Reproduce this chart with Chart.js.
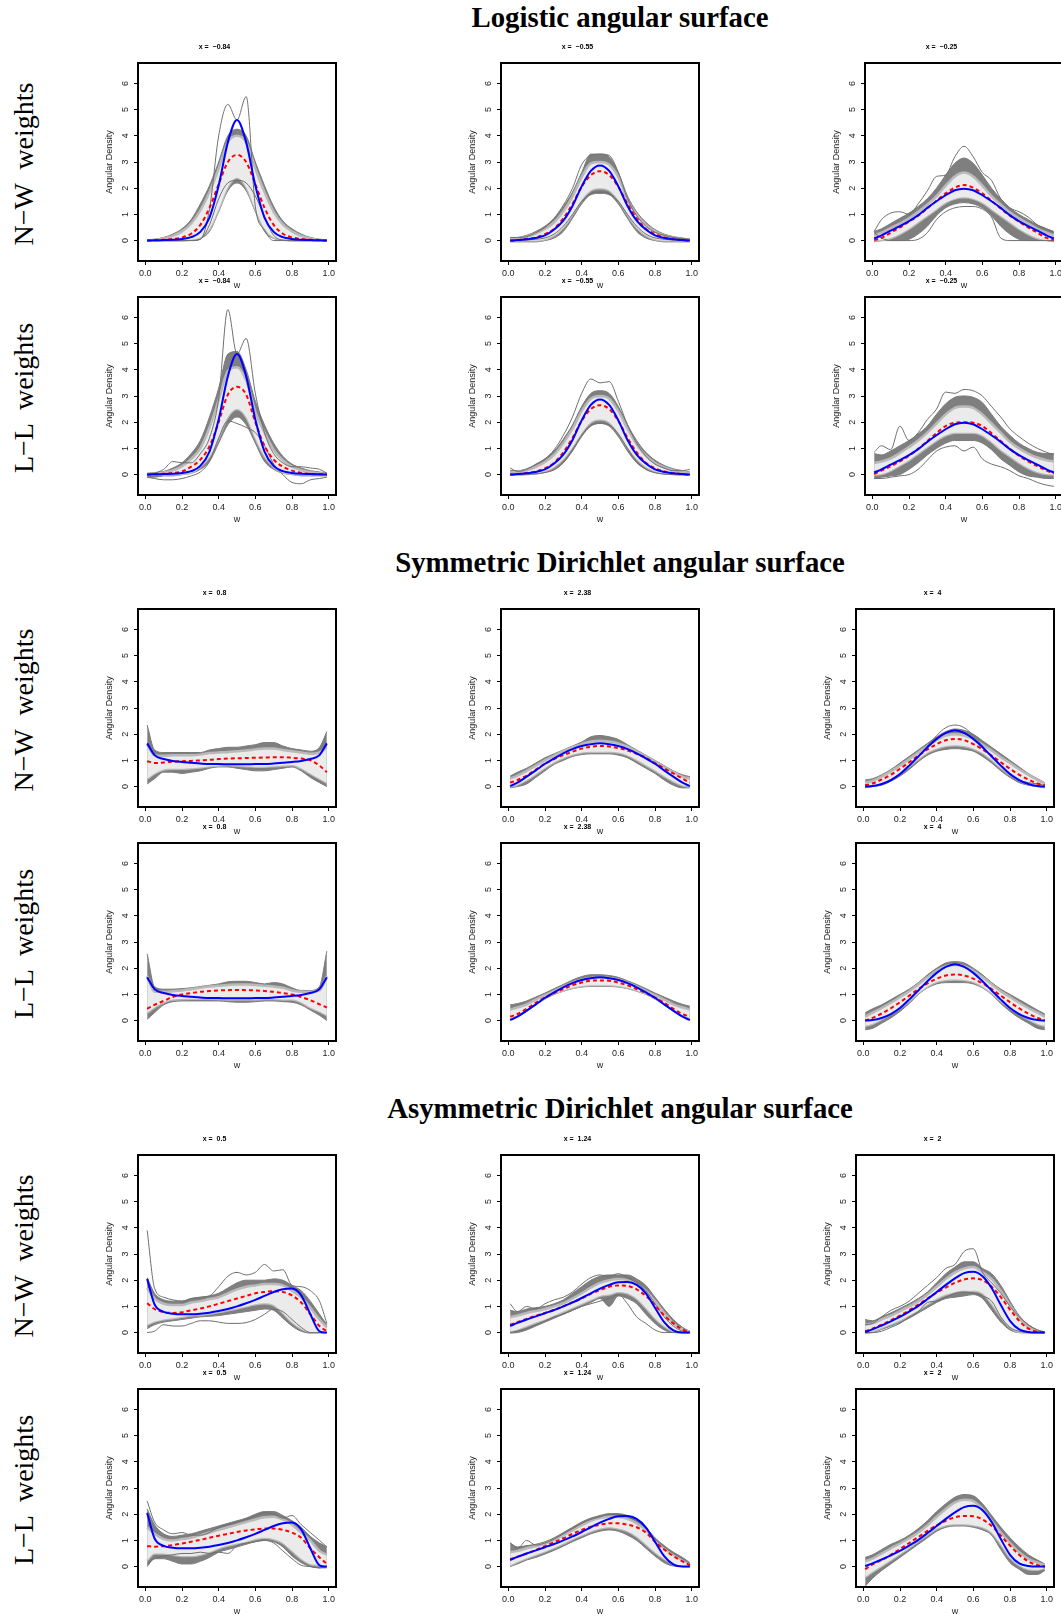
<!DOCTYPE html>
<html>
<head>
<meta charset="utf-8">
<script src="https://cdn.jsdelivr.net/npm/chart.js@4.4.1/dist/chart.umd.min.js"></script>
<style>
  body { margin: 0; background: #fff; }
  #page { position: relative; width: 1061px; height: 1617px; overflow: hidden; background: #fff; }
  .section-title {
    position: absolute; left: 0; width: 1240px; height: 34px; line-height: 34px;
    text-align: center; font-family: "Liberation Serif", serif; font-weight: bold; font-size: 28.8px; color: #000;
  }
  .row-label {
    position: absolute; width: 220px; height: 34px; line-height: 34px; text-align: center;
    font-family: "Liberation Serif", serif; font-size: 28px; color: #000;
    transform: rotate(-90deg); transform-origin: 50% 50%; white-space: pre;
  }
  canvas.panel { position: absolute; }
</style>
</head>
<body>
<div id="page"></div>
<script>
const wGrid = [0.01, 0.05, 0.1, 0.15, 0.2, 0.25, 0.3, 0.35, 0.4, 0.45, 0.5, 0.55, 0.6, 0.65, 0.7, 0.75, 0.8, 0.85, 0.9, 0.95, 0.99];
const xTickValues = [0, 0.2, 0.4, 0.6, 0.8, 1.0];
const yTickValues = [0, 1, 2, 3, 4, 5, 6];
const sectionTitles = ["Logistic angular surface", "Symmetric Dirichlet angular surface", "Asymmetric Dirichlet angular surface"];
const rowLabels = ["N\u2212W  weights", "L\u2212L  weights"];
const xLabels = [["\u22120.84", "\u22120.55", "\u22120.25"], ["0.8", "2.38", "4"], ["0.5", "1.24", "2"]];

// ---- Logistic, x = -0.84
const logA_true = [0, 0.01, 0.02, 0.03, 0.06, 0.13, 0.33, 0.88, 2.1, 3.75, 4.6, 3.75, 2.1, 0.88, 0.33, 0.13, 0.06, 0.03, 0.02, 0.01, 0];
const logA_nw_mean = [0, 0.01, 0.03, 0.06, 0.12, 0.26, 0.6, 1.25, 2.15, 3.0, 3.27, 3.0, 2.15, 1.25, 0.6, 0.26, 0.12, 0.06, 0.03, 0.01, 0];
const logA_nw_hi = [0.02, 0.05, 0.12, 0.25, 0.45, 0.8, 1.4, 2.1, 3.0, 4.0, 4.25, 4.0, 3.0, 2.1, 1.3, 0.75, 0.45, 0.25, 0.12, 0.05, 0.02];
const logA_nw_lo = [0, 0, 0, 0, 0, 0.02, 0.08, 0.35, 1.1, 1.9, 2.2, 1.9, 1.1, 0.35, 0.08, 0.02, 0, 0, 0, 0, 0];
const logA_nw_inHi = [0.01, 0.03, 0.08, 0.18, 0.35, 0.65, 1.15, 1.85, 2.75, 3.75, 4.0, 3.75, 2.75, 1.85, 1.1, 0.62, 0.35, 0.18, 0.08, 0.03, 0.01];
const logA_nw_inLo = [0, 0, 0, 0, 0, 0.04, 0.12, 0.45, 1.2, 2.05, 2.4, 2.05, 1.2, 0.45, 0.12, 0.04, 0, 0, 0, 0, 0];
const logA_nw_line1 = [0, 0, 0, 0, 0, 0, 0.05, 1.2, 4.0, 5.2, 4.6, 5.5, 1.3, 0.4, 0, 0, 0, 0, 0, 0, 0];
const logA_nw_line2 = [0, 0, 0, 0, 0, 0, 0.05, 0.6, 1.6, 2.2, 2.3, 2.2, 1.7, 0.9, 0.2, 0.02, 0, 0, 0, 0, 0];
const logA_ll_mean = [0, 0.01, 0.03, 0.06, 0.12, 0.3, 0.57, 1.08, 2.0, 3.05, 3.35, 3.05, 2.0, 1.1, 0.57, 0.3, 0.15, 0.06, 0.03, 0.01, 0];
const logA_ll_hi = [0.05, 0.08, 0.12, 0.25, 0.45, 0.8, 1.3, 2.2, 3.3, 4.6, 4.7, 4.0, 2.8, 1.9, 1.2, 0.7, 0.4, 0.25, 0.15, 0.1, 0.05];
const logA_ll_lo = [-0.1, -0.1, -0.05, -0.05, 0, 0.05, 0.2, 0.5, 1.2, 1.9, 2.2, 1.9, 1.2, 0.5, 0.2, 0.05, 0, -0.05, -0.05, -0.05, -0.05];
const logA_ll_inHi = [0.02, 0.04, 0.08, 0.16, 0.32, 0.6, 1.0, 1.8, 2.85, 3.95, 4.1, 3.6, 2.4, 1.6, 0.95, 0.55, 0.3, 0.17, 0.09, 0.05, 0.02];
const logA_ll_inLo = [0, 0, 0, 0, 0.02, 0.08, 0.3, 0.7, 1.4, 2.2, 2.5, 2.2, 1.4, 0.7, 0.3, 0.08, 0.02, 0, 0, 0, 0];
const logA_ll_line1 = [0, 0.05, 0.2, 0.5, 0.45, 0.45, 0.8, 1.4, 2.9, 6.3, 4.6, 5.2, 3.1, 1.6, 0.8, 0.45, 0.3, 0.3, 0.25, 0.2, 0.05];
const logA_ll_line2 = [-0.1, -0.15, -0.2, -0.2, -0.15, -0.05, 0.1, 0.5, 1.4, 2.05, 1.95, 1.8, 1.6, 1.1, 0.4, 0, -0.3, -0.35, -0.2, -0.15, -0.1];

// ---- Logistic, x = -0.55
const logB_true = [0, 0.02, 0.05, 0.1, 0.2, 0.42, 0.76, 1.32, 2.07, 2.66, 2.87, 2.66, 2.07, 1.32, 0.76, 0.42, 0.2, 0.1, 0.05, 0.02, 0];
const logB_nw_mean = [0, 0.02, 0.06, 0.12, 0.25, 0.45, 0.85, 1.4, 2.05, 2.5, 2.65, 2.5, 2.05, 1.4, 0.85, 0.45, 0.25, 0.12, 0.06, 0.02, 0];
const logB_nw_hi = [0.1, 0.12, 0.2, 0.35, 0.55, 0.85, 1.3, 1.85, 2.6, 3.3, 3.3, 3.2, 2.6, 1.7, 1.1, 0.7, 0.42, 0.25, 0.15, 0.1, 0.05];
const logB_nw_lo = [-0.05, -0.05, -0.05, -0.05, 0, 0.1, 0.35, 0.85, 1.4, 1.75, 1.8, 1.75, 1.4, 0.85, 0.35, 0.1, 0, -0.05, -0.05, -0.05, -0.05];
const logB_nw_inHi = [0.05, 0.08, 0.14, 0.27, 0.44, 0.7, 1.12, 1.68, 2.42, 2.95, 3.0, 2.9, 2.42, 1.55, 1.0, 0.6, 0.35, 0.2, 0.11, 0.06, 0.03];
const logB_nw_inLo = [0, 0, 0, 0, 0.05, 0.2, 0.5, 1.0, 1.55, 1.92, 2.0, 1.92, 1.55, 1.0, 0.5, 0.2, 0.05, 0, 0, 0, 0];
const logB_nw_line1 = [0.12, 0.12, 0.15, 0.3, 0.5, 0.85, 1.35, 2.0, 2.9, 3.25, 3.3, 3.25, 2.6, 1.6, 0.95, 0.55, 0.32, 0.2, 0.12, 0.08, 0.05];
const logB_nw_line2 = [0, 0, 0.02, 0.05, 0.1, 0.25, 0.55, 1.0, 1.5, 1.8, 1.85, 1.8, 1.5, 1.0, 0.55, 0.25, 0.1, 0.05, 0.02, 0, 0];
const logB_ll_mean = [0, 0.02, 0.06, 0.12, 0.24, 0.45, 0.85, 1.4, 2.05, 2.5, 2.65, 2.5, 2.05, 1.4, 0.85, 0.45, 0.24, 0.12, 0.06, 0.02, 0];
const logB_ll_hi = [0.15, 0.15, 0.22, 0.38, 0.6, 0.9, 1.35, 1.9, 2.6, 3.1, 3.2, 3.1, 2.6, 1.9, 1.3, 0.85, 0.55, 0.35, 0.22, 0.15, 0.1];
const logB_ll_lo = [-0.02, -0.02, 0, 0.02, 0.08, 0.2, 0.45, 0.9, 1.45, 1.85, 1.95, 1.85, 1.45, 0.9, 0.45, 0.2, 0.08, 0.02, 0, -0.02, -0.02];
const logB_ll_inHi = [0.08, 0.1, 0.16, 0.29, 0.48, 0.76, 1.2, 1.75, 2.42, 2.9, 3.0, 2.9, 2.42, 1.75, 1.15, 0.72, 0.44, 0.27, 0.16, 0.1, 0.06];
const logB_ll_inLo = [0, 0, 0.02, 0.05, 0.13, 0.3, 0.6, 1.05, 1.6, 2.0, 2.1, 2.0, 1.6, 1.05, 0.6, 0.3, 0.13, 0.05, 0.02, 0, 0];
const logB_ll_line1 = [0.25, 0.12, 0.2, 0.4, 0.6, 0.95, 1.5, 2.2, 3.1, 3.65, 3.5, 3.55, 2.8, 1.9, 1.2, 0.7, 0.4, 0.25, 0.15, 0.15, 0.2];
const logB_ll_line2 = [0, 0, 0.01, 0.03, 0.08, 0.18, 0.45, 0.95, 1.5, 1.88, 1.95, 1.9, 1.55, 1.0, 0.5, 0.2, 0.07, 0.02, 0, 0, 0];

// ---- Logistic, x = -0.25
const logC_true = [0.08, 0.2, 0.38, 0.55, 0.74, 0.97, 1.25, 1.5, 1.73, 1.92, 1.98, 1.92, 1.73, 1.5, 1.25, 0.97, 0.74, 0.55, 0.38, 0.2, 0.08];
const logC_nw_mean = [0.02, 0.1, 0.3, 0.5, 0.72, 0.95, 1.23, 1.52, 1.8, 2.02, 2.12, 2.02, 1.8, 1.52, 1.23, 0.95, 0.72, 0.5, 0.3, 0.1, 0.02];
const logC_nw_hi = [0.35, 0.45, 0.65, 0.85, 1.05, 1.3, 1.6, 2.0, 2.5, 2.95, 3.15, 2.95, 2.5, 2.0, 1.6, 1.25, 1.0, 0.8, 0.6, 0.45, 0.35];
const logC_nw_lo = [-0.05, 0, 0, 0, 0.05, 0.25, 0.55, 0.95, 1.25, 1.4, 1.45, 1.4, 1.25, 0.95, 0.55, 0.25, 0.05, 0, 0, 0, -0.05];
const logC_nw_inHi = [0.2, 0.3, 0.48, 0.65, 0.85, 1.1, 1.38, 1.7, 2.1, 2.45, 2.6, 2.45, 2.1, 1.7, 1.38, 1.08, 0.85, 0.65, 0.45, 0.3, 0.2];
const logC_nw_inLo = [0, 0.02, 0.1, 0.25, 0.45, 0.7, 0.95, 1.2, 1.45, 1.6, 1.65, 1.6, 1.45, 1.2, 0.95, 0.7, 0.45, 0.25, 0.1, 0.02, 0];
const logC_nw_line1 = [0.35, 0.8, 1.05, 1.1, 1.0, 1.4, 1.9, 2.45, 2.5, 3.2, 3.6, 3.2, 2.6, 2.3, 1.6, 1.25, 1.1, 0.9, 0.6, 0.45, 0.3];
const logC_nw_line2 = [0.3, 0.1, 0, 0, 0, 0.05, 0.3, 0.8, 1.1, 1.25, 1.3, 1.3, 1.2, 0.9, 0.1, 0, 0, 0, 0, 0, 0];
const logC_ll_mean = [0.02, 0.15, 0.32, 0.5, 0.72, 0.98, 1.28, 1.58, 1.85, 1.98, 2.0, 1.98, 1.85, 1.58, 1.28, 0.98, 0.72, 0.5, 0.32, 0.15, 0.05];
const logC_ll_hi = [0.8, 0.75, 0.9, 1.1, 1.3, 1.55, 1.85, 2.3, 2.7, 2.95, 3.0, 2.95, 2.75, 2.3, 1.85, 1.5, 1.2, 1.0, 0.85, 0.8, 0.8];
const logC_ll_lo = [-0.15, -0.1, -0.05, 0, 0.2, 0.45, 0.75, 1.0, 1.2, 1.3, 1.3, 1.3, 1.2, 0.95, 0.6, 0.35, 0.1, -0.05, -0.1, -0.15, -0.15];
const logC_ll_inHi = [0.45, 0.5, 0.62, 0.82, 1.05, 1.3, 1.6, 1.95, 2.3, 2.55, 2.6, 2.55, 2.3, 1.95, 1.6, 1.25, 1.0, 0.8, 0.65, 0.55, 0.5];
const logC_ll_inLo = [0, 0.02, 0.15, 0.35, 0.55, 0.8, 1.05, 1.3, 1.5, 1.6, 1.6, 1.6, 1.5, 1.25, 0.95, 0.7, 0.45, 0.25, 0.1, 0.02, 0];
const logC_ll_line1 = [0.85, 1.1, 0.95, 1.85, 1.3, 1.6, 2.1, 2.5, 3.15, 3.1, 3.25, 3.2, 3.0, 2.6, 2.2, 1.75, 1.45, 1.2, 1.0, 0.85, 0.75];
const logC_ll_line2 = [-0.15, -0.15, -0.1, -0.05, 0, 0.2, 0.55, 0.9, 1.05, 1.1, 0.9, 1.05, 0.6, 0.4, 0.3, 0.15, -0.05, -0.15, -0.3, -0.4, -0.45];

// ---- Symmetric Dirichlet, x = 0.8
const symD_true = [1.65, 1.2, 1.05, 0.98, 0.94, 0.91, 0.88, 0.86, 0.86, 0.85, 0.85, 0.85, 0.86, 0.86, 0.88, 0.91, 0.94, 0.98, 1.05, 1.2, 1.65];
const symD_nw_mean = [0.97, 0.9, 0.92, 0.95, 0.97, 0.98, 1.0, 1.02, 1.05, 1.07, 1.08, 1.09, 1.1, 1.11, 1.12, 1.12, 1.1, 1.07, 1.0, 0.8, 0.55];
const symD_nw_hi = [2.35, 1.4, 1.3, 1.3, 1.3, 1.3, 1.3, 1.4, 1.45, 1.5, 1.5, 1.55, 1.6, 1.68, 1.68, 1.55, 1.45, 1.4, 1.35, 1.5, 2.1];
const symD_nw_lo = [0.1, 0.3, 0.55, 0.55, 0.5, 0.55, 0.6, 0.7, 0.75, 0.75, 0.7, 0.65, 0.6, 0.6, 0.65, 0.7, 0.75, 0.6, 0.35, 0.15, 0];
const symD_nw_inHi = [1.6, 1.2, 1.18, 1.2, 1.2, 1.2, 1.22, 1.28, 1.3, 1.32, 1.35, 1.38, 1.42, 1.45, 1.45, 1.4, 1.35, 1.3, 1.25, 1.3, 1.5];
const symD_nw_inLo = [0.3, 0.5, 0.65, 0.68, 0.68, 0.7, 0.73, 0.78, 0.8, 0.82, 0.8, 0.78, 0.76, 0.76, 0.78, 0.8, 0.82, 0.7, 0.5, 0.3, 0.15];
const symD_ll_mean = [0.45, 0.6, 0.75, 0.9, 1.0, 1.05, 1.1, 1.13, 1.15, 1.16, 1.17, 1.16, 1.15, 1.13, 1.1, 1.05, 1.0, 0.9, 0.78, 0.62, 0.5];
const symD_ll_hi = [2.55, 1.3, 1.2, 1.2, 1.22, 1.25, 1.3, 1.35, 1.4, 1.48, 1.5, 1.5, 1.45, 1.4, 1.45, 1.4, 1.25, 1.15, 1.15, 1.3, 2.65];
const symD_ll_lo = [0.05, 0.3, 0.6, 0.72, 0.75, 0.75, 0.75, 0.75, 0.75, 0.72, 0.7, 0.7, 0.72, 0.75, 0.75, 0.72, 0.7, 0.6, 0.4, 0.2, 0];
const symD_ll_inHi = [1.7, 1.1, 1.1, 1.12, 1.15, 1.2, 1.25, 1.3, 1.33, 1.36, 1.38, 1.38, 1.36, 1.33, 1.3, 1.25, 1.15, 1.1, 1.1, 1.15, 1.7];
const symD_ll_inLo = [0.3, 0.5, 0.7, 0.8, 0.82, 0.83, 0.83, 0.83, 0.82, 0.8, 0.8, 0.8, 0.8, 0.82, 0.82, 0.8, 0.8, 0.7, 0.5, 0.35, 0.2];

// ---- Symmetric Dirichlet, x = 2.38
const symE_true = [0.02, 0.15, 0.38, 0.62, 0.87, 1.08, 1.27, 1.43, 1.55, 1.62, 1.65, 1.62, 1.55, 1.43, 1.27, 1.08, 0.87, 0.62, 0.38, 0.15, 0.02];
const symE_nw_mean = [0.15, 0.25, 0.42, 0.65, 0.87, 1.05, 1.2, 1.33, 1.45, 1.52, 1.55, 1.53, 1.47, 1.38, 1.25, 1.1, 0.9, 0.7, 0.5, 0.3, 0.15];
const symE_nw_hi = [0.4, 0.55, 0.7, 0.9, 1.1, 1.25, 1.4, 1.55, 1.7, 1.9, 1.95, 1.9, 1.8, 1.6, 1.4, 1.2, 1.0, 0.8, 0.6, 0.45, 0.38];
const symE_nw_lo = [-0.05, 0, 0.1, 0.35, 0.6, 0.85, 1.0, 1.15, 1.22, 1.25, 1.25, 1.25, 1.2, 1.1, 0.9, 0.7, 0.5, 0.25, 0.05, -0.05, -0.05];
const symE_nw_inHi = [0.3, 0.42, 0.6, 0.8, 1.0, 1.18, 1.35, 1.5, 1.62, 1.72, 1.75, 1.72, 1.65, 1.52, 1.35, 1.15, 0.95, 0.75, 0.55, 0.38, 0.3];
const symE_nw_inLo = [0, 0.08, 0.25, 0.48, 0.72, 0.93, 1.1, 1.22, 1.3, 1.33, 1.33, 1.33, 1.3, 1.2, 1.02, 0.82, 0.62, 0.4, 0.2, 0.05, 0];
const symE_ll_mean = [0.15, 0.25, 0.45, 0.68, 0.88, 1.05, 1.2, 1.35, 1.45, 1.52, 1.53, 1.52, 1.45, 1.35, 1.2, 1.05, 0.88, 0.68, 0.45, 0.25, 0.15];
const symE_ll_hi = [0.6, 0.65, 0.75, 0.9, 1.05, 1.22, 1.38, 1.55, 1.68, 1.75, 1.75, 1.72, 1.65, 1.52, 1.38, 1.22, 1.05, 0.9, 0.75, 0.62, 0.55];
const symE_ll_lo = [0.05, 0.15, 0.35, 0.6, 0.82, 1.0, 1.12, 1.22, 1.28, 1.3, 1.3, 1.3, 1.28, 1.22, 1.12, 1.0, 0.82, 0.6, 0.35, 0.15, 0.05];
const symE_ll_inHi = [0.42, 0.5, 0.62, 0.8, 0.97, 1.13, 1.3, 1.45, 1.57, 1.63, 1.65, 1.63, 1.57, 1.45, 1.3, 1.13, 0.97, 0.8, 0.62, 0.5, 0.42];
const symE_ll_inLo = [0.1, 0.2, 0.4, 0.65, 0.86, 1.03, 1.15, 1.25, 1.32, 1.35, 1.35, 1.35, 1.32, 1.25, 1.15, 1.03, 0.86, 0.65, 0.4, 0.2, 0.1];

// ---- Symmetric Dirichlet, x = 4
const symF_true = [0, 0.02, 0.1, 0.25, 0.48, 0.8, 1.15, 1.5, 1.82, 2.05, 2.15, 2.05, 1.82, 1.5, 1.15, 0.8, 0.48, 0.25, 0.1, 0.02, 0];
const symF_nw_mean = [0.05, 0.12, 0.27, 0.45, 0.68, 0.93, 1.18, 1.42, 1.62, 1.77, 1.82, 1.77, 1.62, 1.42, 1.18, 0.93, 0.68, 0.45, 0.27, 0.12, 0.05];
const symF_nw_hi = [0.25, 0.3, 0.45, 0.65, 0.9, 1.15, 1.4, 1.65, 1.9, 2.1, 2.2, 2.15, 2.0, 1.75, 1.5, 1.25, 1.0, 0.75, 0.5, 0.3, 0.15];
const symF_nw_lo = [-0.05, 0, 0.05, 0.2, 0.4, 0.65, 0.95, 1.2, 1.35, 1.42, 1.45, 1.42, 1.35, 1.15, 0.9, 0.6, 0.35, 0.15, 0.05, 0, -0.05];
const symF_nw_inHi = [0.15, 0.22, 0.38, 0.58, 0.8, 1.05, 1.3, 1.55, 1.78, 1.95, 2.0, 1.95, 1.82, 1.6, 1.38, 1.12, 0.9, 0.66, 0.45, 0.25, 0.12];
const symF_nw_inLo = [0, 0.02, 0.12, 0.3, 0.52, 0.78, 1.05, 1.3, 1.45, 1.55, 1.58, 1.55, 1.45, 1.28, 1.02, 0.72, 0.45, 0.25, 0.1, 0.02, 0];
const symF_nw_line1 = [0, 0.02, 0.08, 0.22, 0.45, 0.78, 1.15, 1.55, 1.95, 2.25, 2.35, 2.25, 1.95, 1.55, 1.15, 0.78, 0.45, 0.25, 0.15, 0.1, 0.05];
const symF_ll_mean = [0, 0.1, 0.27, 0.47, 0.7, 0.95, 1.2, 1.42, 1.6, 1.72, 1.76, 1.72, 1.6, 1.42, 1.2, 0.95, 0.7, 0.47, 0.27, 0.1, 0];
const symF_ll_hi = [0.3, 0.45, 0.6, 0.8, 1.0, 1.2, 1.45, 1.75, 2.0, 2.2, 2.25, 2.2, 2.0, 1.75, 1.45, 1.2, 1.0, 0.8, 0.6, 0.4, 0.25];
const symF_ll_lo = [-0.35, -0.3, -0.1, 0.1, 0.35, 0.65, 1.0, 1.25, 1.4, 1.45, 1.45, 1.45, 1.4, 1.25, 1.0, 0.65, 0.35, 0.1, -0.1, -0.3, -0.35];
const symF_ll_inHi = [0.15, 0.3, 0.48, 0.68, 0.9, 1.12, 1.38, 1.65, 1.9, 2.08, 2.12, 2.08, 1.9, 1.65, 1.38, 1.12, 0.9, 0.68, 0.48, 0.3, 0.15];
const symF_ll_inLo = [-0.2, -0.12, 0.05, 0.25, 0.48, 0.75, 1.05, 1.3, 1.48, 1.55, 1.57, 1.55, 1.48, 1.3, 1.05, 0.75, 0.48, 0.25, 0.05, -0.12, -0.2];

// ---- Asymmetric Dirichlet, x = 0.5
const asyG_true = [2.05, 1.08, 0.79, 0.72, 0.7, 0.7, 0.72, 0.76, 0.82, 0.9, 1.0, 1.12, 1.25, 1.4, 1.55, 1.65, 1.68, 1.42, 0.7, 0.05, 0];
const asyG_nw_mean = [1.12, 0.9, 0.78, 0.75, 0.78, 0.85, 0.92, 1.0, 1.1, 1.2, 1.3, 1.4, 1.5, 1.55, 1.58, 1.55, 1.42, 1.15, 0.7, 0.25, 0.05];
const asyG_nw_hi = [2.1, 1.5, 1.25, 1.2, 1.2, 1.3, 1.35, 1.4, 1.5, 1.7, 1.9, 2.0, 2.0, 2.0, 2.05, 2.0, 1.8, 1.6, 1.2, 0.7, 0.3];
const asyG_nw_lo = [0.15, 0.3, 0.4, 0.45, 0.5, 0.55, 0.6, 0.62, 0.65, 0.7, 0.75, 0.8, 0.85, 0.9, 0.85, 0.55, 0.25, 0.05, -0.02, 0, 0];
const asyG_nw_inHi = [1.7, 1.3, 1.1, 1.05, 1.05, 1.15, 1.2, 1.28, 1.35, 1.5, 1.65, 1.75, 1.8, 1.85, 1.85, 1.8, 1.6, 1.35, 0.95, 0.5, 0.2];
const asyG_nw_inLo = [0.3, 0.42, 0.5, 0.55, 0.6, 0.65, 0.68, 0.72, 0.78, 0.85, 0.92, 1.0, 1.08, 1.12, 1.05, 0.75, 0.4, 0.15, 0.02, 0, 0];
const asyG_nw_line1 = [3.9, 1.7, 1.35, 1.25, 1.2, 1.3, 1.35, 1.4, 1.75, 2.15, 2.3, 2.2, 2.3, 2.6, 2.35, 2.4, 1.8, 1.75, 1.6, 1.2, 0.35];
const asyG_nw_line2 = [0, 0.05, 0.3, 0.25, 0.25, 0.35, 0.45, 0.45, 0.4, 0.35, 0.35, 0.38, 0.5, 0.7, 0.9, 0.8, 0.5, 0.2, 0, 0, 0];
const asyG_ll_mean = [0.78, 0.76, 0.78, 0.82, 0.88, 0.95, 1.02, 1.1, 1.18, 1.25, 1.32, 1.38, 1.42, 1.45, 1.45, 1.4, 1.3, 1.1, 0.7, 0.35, 0.1];
const asyG_ll_hi = [2.2, 1.6, 1.25, 1.15, 1.2, 1.25, 1.35, 1.45, 1.55, 1.65, 1.75, 1.85, 2.0, 2.1, 2.1, 1.95, 1.75, 1.5, 1.15, 0.9, 0.75];
const asyG_ll_lo = [0, 0.3, 0.3, 0.2, 0.1, 0.1, 0.2, 0.35, 0.55, 0.65, 0.75, 0.85, 0.95, 1.0, 0.95, 0.75, 0.4, 0.15, 0, -0.05, -0.05];
const asyG_ll_inHi = [1.5, 1.25, 1.05, 1.0, 1.05, 1.1, 1.2, 1.3, 1.4, 1.5, 1.6, 1.7, 1.8, 1.88, 1.9, 1.8, 1.6, 1.3, 1.0, 0.6, 0.45];
const asyG_ll_inLo = [0.25, 0.5, 0.5, 0.45, 0.4, 0.4, 0.45, 0.55, 0.7, 0.8, 0.88, 0.95, 1.05, 1.1, 1.05, 0.9, 0.6, 0.3, 0.1, 0.05, 0];
const asyG_ll_line1 = [2.5, 1.7, 1.4, 1.25, 1.3, 1.2, 1.2, 1.3, 1.5, 1.6, 1.7, 1.8, 1.95, 2.05, 2.0, 1.85, 1.95, 1.6, 1.3, 1.0, 0.75];
const asyG_ll_line2 = [0.1, 0.3, 0.4, 0.45, 0.5, 0.5, 0.55, 0.5, 0.55, 0.5, 0.8, 0.9, 0.95, 1.0, 0.9, 0.6, 0.3, 0.05, 0, -0.05, 0];

// ---- Asymmetric Dirichlet, x = 1.24
const asyH_true = [0.25, 0.37, 0.5, 0.62, 0.74, 0.86, 1.0, 1.15, 1.32, 1.5, 1.68, 1.82, 1.92, 1.93, 1.82, 1.5, 0.95, 0.4, 0.08, 0, 0];
const asyH_nw_mean = [0.3, 0.4, 0.52, 0.64, 0.75, 0.87, 1.0, 1.15, 1.3, 1.48, 1.62, 1.75, 1.8, 1.78, 1.65, 1.4, 1.05, 0.65, 0.35, 0.12, 0.02];
const asyH_nw_hi = [0.85, 0.8, 0.9, 0.95, 1.0, 1.1, 1.25, 1.5, 1.75, 2.0, 2.15, 2.2, 2.2, 2.2, 2.05, 1.8, 1.35, 0.9, 0.5, 0.2, 0.05];
const asyH_nw_lo = [-0.02, 0, 0.1, 0.25, 0.4, 0.55, 0.7, 0.85, 1.0, 1.15, 1.3, 1.0, 1.4, 1.3, 1.1, 0.7, 0.35, 0.1, 0, 0, 0];
const asyH_nw_inHi = [0.6, 0.65, 0.75, 0.82, 0.9, 1.0, 1.12, 1.3, 1.5, 1.72, 1.9, 2.0, 2.05, 2.0, 1.85, 1.6, 1.2, 0.75, 0.35, 0.12, 0.03];
const asyH_nw_inLo = [0.05, 0.12, 0.25, 0.38, 0.5, 0.65, 0.8, 0.95, 1.1, 1.25, 1.4, 1.45, 1.55, 1.5, 1.3, 0.95, 0.55, 0.25, 0.05, 0, 0];
const asyH_nw_line1 = [1.1, 0.8, 1.0, 0.9, 1.1, 1.25, 1.35, 1.55, 1.85, 2.1, 2.2, 2.15, 2.25, 2.1, 1.9, 1.6, 1.1, 0.6, 0.25, 0.05, 0];
const asyH_nw_line2 = [0, 0.05, 0.15, 0.3, 0.45, 0.6, 0.7, 0.85, 1.0, 1.1, 1.2, 1.3, 1.45, 1.1, 0.6, 0.35, 0.1, 0, 0, 0, 0];
const asyH_ll_mean = [0.28, 0.38, 0.5, 0.63, 0.78, 0.93, 1.08, 1.25, 1.4, 1.52, 1.6, 1.65, 1.65, 1.6, 1.5, 1.3, 0.95, 0.65, 0.4, 0.2, 0.05];
const asyH_ll_hi = [0.9, 0.75, 0.8, 0.85, 0.95, 1.1, 1.3, 1.5, 1.7, 1.85, 1.95, 2.02, 2.02, 1.95, 1.8, 1.5, 1.1, 0.8, 0.55, 0.35, 0.15];
const asyH_ll_lo = [0, 0.1, 0.25, 0.35, 0.48, 0.62, 0.78, 0.95, 1.1, 1.25, 1.35, 1.4, 1.35, 1.2, 1.0, 0.7, 0.4, 0.15, 0.02, 0, 0];
const asyH_ll_inHi = [0.55, 0.6, 0.7, 0.78, 0.88, 1.02, 1.2, 1.38, 1.58, 1.75, 1.85, 1.9, 1.9, 1.82, 1.65, 1.4, 1.0, 0.7, 0.45, 0.25, 0.1];
const asyH_ll_inLo = [0.05, 0.18, 0.32, 0.45, 0.58, 0.72, 0.88, 1.05, 1.2, 1.35, 1.45, 1.5, 1.45, 1.35, 1.15, 0.85, 0.55, 0.3, 0.1, 0.02, 0];
const asyH_ll_line1 = [0.9, 0.7, 1.0, 0.82, 0.9, 1.05, 1.25, 1.45, 1.65, 1.8, 1.9, 2.0, 2.0, 1.9, 1.75, 1.45, 1.05, 0.75, 0.5, 0.3, 0.12];

// ---- Asymmetric Dirichlet, x = 2
const asyI_true = [0.02, 0.12, 0.27, 0.43, 0.6, 0.8, 1.02, 1.28, 1.55, 1.82, 2.07, 2.27, 2.32, 2.15, 1.7, 1.05, 0.45, 0.12, 0.02, 0, 0];
const asyI_nw_mean = [0.05, 0.15, 0.3, 0.47, 0.65, 0.85, 1.07, 1.3, 1.52, 1.72, 1.9, 2.03, 2.07, 2.0, 1.75, 1.35, 0.88, 0.45, 0.15, 0.03, 0];
const asyI_nw_hi = [0.5, 0.45, 0.6, 0.75, 0.92, 1.1, 1.3, 1.55, 1.9, 2.25, 2.5, 2.7, 2.7, 2.45, 2.25, 1.8, 1.2, 0.65, 0.3, 0.1, 0.03];
const asyI_nw_lo = [-0.03, 0, 0.12, 0.25, 0.38, 0.55, 0.75, 0.95, 1.15, 1.3, 1.35, 1.4, 1.45, 1.3, 0.85, 0.4, 0.1, 0, 0, 0, 0];
const asyI_nw_inHi = [0.3, 0.35, 0.5, 0.65, 0.82, 1.0, 1.2, 1.45, 1.75, 2.05, 2.3, 2.45, 2.5, 2.3, 2.05, 1.6, 1.05, 0.55, 0.2, 0.05, 0.01];
const asyI_nw_inLo = [0, 0.05, 0.18, 0.32, 0.47, 0.65, 0.85, 1.08, 1.3, 1.45, 1.55, 1.6, 1.6, 1.5, 1.1, 0.6, 0.2, 0.02, 0, 0, 0];
const asyI_nw_line1 = [0.3, 0.35, 0.6, 0.85, 1.0, 1.2, 1.5, 1.8, 2.1, 2.45, 2.6, 3.1, 3.2, 2.3, 1.9, 1.5, 1.0, 0.6, 0.3, 0.1, 0];
const asyI_nw_line2 = [0, 0, 0.05, 0.2, 0.35, 0.6, 0.8, 1.15, 1.2, 1.35, 1.5, 1.55, 1.5, 1.4, 1.2, 0.6, 0.2, 0.05, 0, 0, 0];
const asyI_ll_mean = [-0.1, 0.08, 0.25, 0.45, 0.67, 0.9, 1.13, 1.36, 1.58, 1.75, 1.88, 1.93, 1.92, 1.8, 1.55, 1.18, 0.8, 0.45, 0.2, 0.05, 0];
const asyI_ll_hi = [0.35, 0.45, 0.65, 0.85, 1.0, 1.2, 1.45, 1.75, 2.1, 2.4, 2.65, 2.75, 2.7, 2.4, 1.95, 1.5, 1.1, 0.75, 0.45, 0.25, 0.1];
const asyI_ll_lo = [-0.75, -0.45, -0.15, 0.1, 0.35, 0.6, 0.85, 1.1, 1.35, 1.5, 1.55, 1.55, 1.5, 1.4, 1.2, 0.65, 0.15, -0.1, -0.3, -0.3, -0.15];
const asyI_ll_inHi = [0.2, 0.3, 0.5, 0.7, 0.88, 1.08, 1.3, 1.58, 1.9, 2.2, 2.45, 2.55, 2.5, 2.2, 1.75, 1.3, 0.9, 0.55, 0.3, 0.15, 0.05];
const asyI_ll_inLo = [-0.4, -0.2, 0.02, 0.25, 0.48, 0.72, 0.98, 1.22, 1.45, 1.58, 1.62, 1.62, 1.58, 1.5, 1.3, 0.85, 0.35, 0.05, -0.1, -0.12, -0.05];

// panel table: [section, row, column, true, mean, outer hi, outer lo, inner hi, inner lo, extra lines]
const panels = [
  [0, 0, 0, logA_true, logA_nw_mean, logA_nw_hi, logA_nw_lo, logA_nw_inHi, logA_nw_inLo, [logA_nw_line1, logA_nw_line2]],
  [0, 0, 1, logB_true, logB_nw_mean, logB_nw_hi, logB_nw_lo, logB_nw_inHi, logB_nw_inLo, [logB_nw_line1, logB_nw_line2]],
  [0, 0, 2, logC_true, logC_nw_mean, logC_nw_hi, logC_nw_lo, logC_nw_inHi, logC_nw_inLo, [logC_nw_line1, logC_nw_line2]],
  [0, 1, 0, logA_true, logA_ll_mean, logA_ll_hi, logA_ll_lo, logA_ll_inHi, logA_ll_inLo, [logA_ll_line1, logA_ll_line2]],
  [0, 1, 1, logB_true, logB_ll_mean, logB_ll_hi, logB_ll_lo, logB_ll_inHi, logB_ll_inLo, [logB_ll_line1, logB_ll_line2]],
  [0, 1, 2, logC_true, logC_ll_mean, logC_ll_hi, logC_ll_lo, logC_ll_inHi, logC_ll_inLo, [logC_ll_line1, logC_ll_line2]],
  [1, 0, 0, symD_true, symD_nw_mean, symD_nw_hi, symD_nw_lo, symD_nw_inHi, symD_nw_inLo, []],
  [1, 0, 1, symE_true, symE_nw_mean, symE_nw_hi, symE_nw_lo, symE_nw_inHi, symE_nw_inLo, []],
  [1, 0, 2, symF_true, symF_nw_mean, symF_nw_hi, symF_nw_lo, symF_nw_inHi, symF_nw_inLo, [symF_nw_line1]],
  [1, 1, 0, symD_true, symD_ll_mean, symD_ll_hi, symD_ll_lo, symD_ll_inHi, symD_ll_inLo, []],
  [1, 1, 1, symE_true, symE_ll_mean, symE_ll_hi, symE_ll_lo, symE_ll_inHi, symE_ll_inLo, []],
  [1, 1, 2, symF_true, symF_ll_mean, symF_ll_hi, symF_ll_lo, symF_ll_inHi, symF_ll_inLo, []],
  [2, 0, 0, asyG_true, asyG_nw_mean, asyG_nw_hi, asyG_nw_lo, asyG_nw_inHi, asyG_nw_inLo, [asyG_nw_line1, asyG_nw_line2]],
  [2, 0, 1, asyH_true, asyH_nw_mean, asyH_nw_hi, asyH_nw_lo, asyH_nw_inHi, asyH_nw_inLo, [asyH_nw_line1, asyH_nw_line2]],
  [2, 0, 2, asyI_true, asyI_nw_mean, asyI_nw_hi, asyI_nw_lo, asyI_nw_inHi, asyI_nw_inLo, [asyI_nw_line1, asyI_nw_line2]],
  [2, 1, 0, asyG_true, asyG_ll_mean, asyG_ll_hi, asyG_ll_lo, asyG_ll_inHi, asyG_ll_inLo, [asyG_ll_line1, asyG_ll_line2]],
  [2, 1, 1, asyH_true, asyH_ll_mean, asyH_ll_hi, asyH_ll_lo, asyH_ll_inHi, asyH_ll_inLo, [asyH_ll_line1]],
  [2, 1, 2, asyI_true, asyI_ll_mean, asyI_ll_hi, asyI_ll_lo, asyI_ll_inHi, asyI_ll_inLo, []]
];

// page layout (pixels)
const sectionShift = [0, 546, 1092];
const rowBoxTop = [63, 297];
const colBoxLeft = [[138, 501, 865], [138, 501, 856], [138, 501, 856]];
const titleCenterY = [16.5, 562, 1108];
const BOX = 198, AXIS_W = 45, TITLE_H = 25, AXIS_H = 34, RIGHT_PAD = 12;

Chart.defaults.font.family = '"Liberation Sans", Arial, sans-serif';
Chart.defaults.color = '#222';

const page = document.getElementById('page');

sectionTitles.forEach((t, s) => {
  const d = document.createElement('div');
  d.className = 'section-title';
  d.style.top = (titleCenterY[s] - 17) + 'px';
  d.textContent = t;
  page.appendChild(d);
  rowLabels.forEach((lab, r) => {
    const l = document.createElement('div');
    l.className = 'row-label';
    const cy = sectionShift[s] + rowBoxTop[r] + BOX / 2 + 2;
    l.style.left = (24 - 110) + 'px';
    l.style.top = (cy - 17) + 'px';
    l.textContent = lab;
    page.appendChild(l);
  });
});

const framePlugin = {
  id: 'frame',
  afterDatasetsDraw(chart) {
    const { ctx, chartArea: a } = chart;
    ctx.save();
    ctx.strokeStyle = '#000';
    ctx.lineWidth = 2;
    ctx.strokeRect(a.left, a.top, a.right - a.left, a.bottom - a.top);
    ctx.restore();
  }
};

function pts(vals) {
  return vals.map((v, i) => ({ x: wGrid[i], y: v }));
}

panels.forEach(([s, r, c, truth, mean, hi, lo, inHi, inLo, lines]) => {
  const cv = document.createElement('canvas');
  cv.className = 'panel';
  const W = AXIS_W + BOX + RIGHT_PAD, H = TITLE_H + BOX + AXIS_H;
  cv.width = W; cv.height = H;
  cv.style.width = W + 'px'; cv.style.height = H + 'px';
  cv.style.left = (colBoxLeft[s][c] - AXIS_W) + 'px';
  cv.style.top = (sectionShift[s] + rowBoxTop[r] - TITLE_H) + 'px';
  page.appendChild(cv);

  const thin = { borderColor: '#6f6f6f', borderWidth: 1, fill: false };
  const datasets = [
    { label: 'true', data: pts(truth), borderColor: '#0000ff', borderWidth: 2, fill: false },
    { label: 'mean', data: pts(mean), borderColor: '#ff0000', borderWidth: 2, borderDash: [4, 3], fill: false },
    Object.assign({ label: 'extreme 1', data: lines[0] ? pts(lines[0]) : [] }, thin),
    Object.assign({ label: 'extreme 2', data: lines[1] ? pts(lines[1]) : [] }, thin),
    { label: 'inner upper', data: pts(inHi), borderColor: '#b9b9b9', borderWidth: 2.5, backgroundColor: '#ebebeb', fill: 5 },
    { label: 'inner lower', data: pts(inLo), borderColor: '#b9b9b9', borderWidth: 2.5, fill: false },
    { label: 'outer upper', data: pts(hi), borderColor: '#7a7a7a', borderWidth: 1, backgroundColor: '#7f7f7f', fill: 7 },
    { label: 'outer lower', data: pts(lo), borderColor: '#7a7a7a', borderWidth: 1, fill: false }
  ];

  new Chart(cv, {
    type: 'line',
    data: { datasets },
    plugins: [framePlugin],
    options: {
      responsive: false,
      animation: false,
      events: [],
      layout: { padding: { left: 0, top: 0, right: RIGHT_PAD, bottom: 0 } },
      elements: {
        point: { radius: 0 },
        line: { cubicInterpolationMode: 'monotone' }
      },
      plugins: {
        legend: { display: false },
        tooltip: { enabled: false },
        title: {
          display: true,
          text: 'x =  ' + xLabels[s][c],
          color: '#000',
          font: { size: 7, weight: 'bold', lineHeight: 1 },
          padding: { top: 6, bottom: 12 }
        }
      },
      scales: {
        x: {
          type: 'linear',
          min: -0.04, max: 1.04,
          afterBuildTicks: sc => { sc.ticks = xTickValues.map(v => ({ value: v })); },
          afterFit: sc => { sc.height = AXIS_H; },
          ticks: { font: { size: 9 }, padding: 3.5, maxRotation: 0, autoSkip: false, callback: v => v.toFixed(1) },
          grid: { drawOnChartArea: false, drawTicks: true, tickLength: 4, color: '#000' },
          border: { display: false },
          title: { display: true, text: 'w', font: { size: 9 }, padding: { top: 0, bottom: 3.6 } }
        },
        y: {
          type: 'linear',
          min: -0.78, max: 6.78,
          afterBuildTicks: sc => { sc.ticks = yTickValues.map(v => ({ value: v })); },
          afterFit: sc => { sc.width = AXIS_W; },
          ticks: { font: { size: 9 }, padding: 5.5, minRotation: 90, maxRotation: 90, crossAlign: 'center', autoSkip: false },
          grid: { drawOnChartArea: false, drawTicks: true, tickLength: 4, color: '#000' },
          border: { display: false },
          title: { display: true, text: 'Angular Density', font: { size: 9 }, padding: { top: 11.6, bottom: 0 } }
        }
      }
    }
  });
});
</script>
</body>
</html>
